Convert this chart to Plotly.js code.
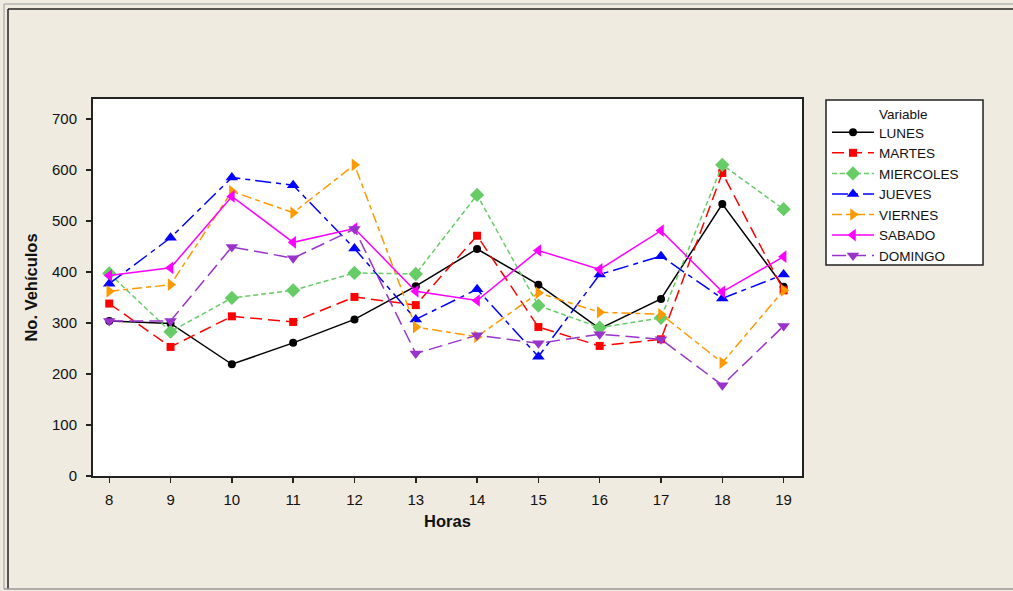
<!DOCTYPE html>
<html>
<head>
<meta charset="utf-8">
<script src="https://cdn.plot.ly/plotly-3.0.1.min.js"></script>
<style>
html,body{margin:0;padding:0;background:#EFEBE0;}
#chart{width:1013px;height:591px;}
</style>
</head>
<body>
<div id="chart"></div>
<script>
const horas = [8, 9, 10, 11, 12, 13, 14, 15, 16, 17, 18, 19];
const lunes     = [304, 299, 219, 261, 307, 372, 445, 375, 289, 347, 533, 371];
const martes    = [338, 253, 313, 302, 351, 335, 471, 292, 255, 268, 594, 364];
const miercoles = [397, 283, 349, 364, 398, 396, 551, 334, 291, 310, 610, 523];
const jueves    = [377, 467, 585, 570, 446, 307, 366, 234, 395, 431, 348, 395];
const viernes   = [362, 375, 558, 516, 610, 292, 273, 359, 321, 317, 222, 364];
const sabado    = [393, 408, 548, 458, 485, 362, 344, 442, 405, 481, 361, 430];
const domingo   = [304, 304, 449, 427, 484, 240, 276, 260, 278, 268, 178, 294];
const nombres = ["LUNES", "MARTES", "MIERCOLES", "JUEVES", "VIERNES", "SABADO", "DOMINGO"];
const legendTitle = "Variable";
const xTicks = horas;
const yTicks = [0, 100, 200, 300, 400, 500, 600, 700];

const series = [lunes, martes, miercoles, jueves, viernes, sabado, domingo];
const styles = [
  {color: "#000000", dash: "solid", symbol: "circle", size: 8},
  {color: "#FF0000", dash: "12px,6px", symbol: "square", size: 8},
  {color: "#66CC66", dash: "5px,3px", symbol: "diamond", size: 11},
  {color: "#0000FF", dash: "16px,5px,5px,5px", symbol: "triangle-up", size: 11},
  {color: "#FF9900", dash: "10px,4px,5px,4px", symbol: "triangle-right", size: 11},
  {color: "#FF00FF", dash: "solid", symbol: "triangle-left", size: 11},
  {color: "#9933CC", dash: "14px,6px", symbol: "triangle-down", size: 11}
];

const traces = series.map((ys, i) => ({
  x: horas, y: ys, name: nombres[i], type: "scatter", mode: "lines+markers",
  line: {color: styles[i].color, width: 1.5, dash: styles[i].dash},
  marker: {color: styles[i].color, symbol: styles[i].symbol, size: styles[i].size, line: {width: 0}}
}));

const L = 93, R = 802, T = 99, B = 476, W = 1013, H = 591;
const px = v => (v - L) / (R - L);
const py = v => (B - v) / (B - T);

const shapes = [
  {type: "line", xref: "paper", yref: "paper", x0: px(4), x1: px(1013), y0: py(4), y1: py(4), line: {color: "#9A9A9A", width: 1}},
  {type: "line", xref: "paper", yref: "paper", x0: px(8), x1: px(1013), y0: py(9), y1: py(9), line: {color: "#222222", width: 1.5}},
  {type: "line", xref: "paper", yref: "paper", x0: px(4), x1: px(4), y0: py(4), y1: py(589), line: {color: "#9A9A9A", width: 1}},
  {type: "line", xref: "paper", yref: "paper", x0: px(8), x1: px(8), y0: py(9), y1: py(589), line: {color: "#222222", width: 1.5}},
  {type: "line", xref: "paper", yref: "paper", x0: px(4), x1: px(1013), y0: py(589), y1: py(589), line: {color: "#9A9A9A", width: 1.5}},
  {type: "rect", xref: "paper", yref: "paper", x0: px(826), x1: px(983), y0: py(100), y1: py(265), fillcolor: "#FFFFFF", line: {color: "#222222", width: 1.5}, layer: "below"}
];

const annotations = [
  {text: legendTitle, xref: "paper", yref: "paper", x: px(877), y: py(114), xanchor: "left", yanchor: "middle", showarrow: false,
   font: {size: 13.5, family: "Liberation Sans, Arial, sans-serif", color: "#111111"}}
];

const layout = {
  width: W, height: H,
  margin: {l: L, r: W - R, t: T, b: H - B, pad: 0},
  paper_bgcolor: "#EFEBE0",
  plot_bgcolor: "#FFFFFF",
  font: {family: "Liberation Sans, Arial, sans-serif", color: "#111111", size: 15},
  showlegend: true,
  xaxis: {
    range: [7.735, 19.3], tickvals: xTicks, ticktext: xTicks.map(String),
    showgrid: false, zeroline: false, showline: true, mirror: true, linecolor: "#222222", linewidth: 2,
    ticks: "outside", ticklen: 5, tickwidth: 1.5, tickcolor: "#222222",
    tickfont: {size: 15}, ticklabelstandoff: 4,
    title: {text: "Horas", font: {size: 16.5, family: "Liberation Sans, Arial, sans-serif", weight: "bold"}, standoff: 8}
  },
  yaxis: {
    range: [0, 739], tickvals: yTicks, ticktext: yTicks.map(String),
    showgrid: false, zeroline: false, showline: true, mirror: true, linecolor: "#222222", linewidth: 2,
    ticks: "outside", ticklen: 5, tickwidth: 1.5, tickcolor: "#222222",
    tickfont: {size: 15}, ticklabelstandoff: 6,
    title: {text: "No. Vehículos", font: {size: 16.5, family: "Liberation Sans, Arial, sans-serif", weight: "bold"}, standoff: 10}
  },
  legend: {
    x: px(827), y: py(117), xanchor: "left", yanchor: "top",
    bgcolor: "rgba(0,0,0,0)", borderwidth: 0,
    font: {size: 13.5, family: "Liberation Sans, Arial, sans-serif", color: "#111111"},
    itemwidth: 42, tracegroupgap: 0
  },
  annotations: annotations,
  shapes: shapes
};

Plotly.newPlot("chart", traces, layout, {displayModeBar: false, staticPlot: true});
</script>
</body>
</html>
